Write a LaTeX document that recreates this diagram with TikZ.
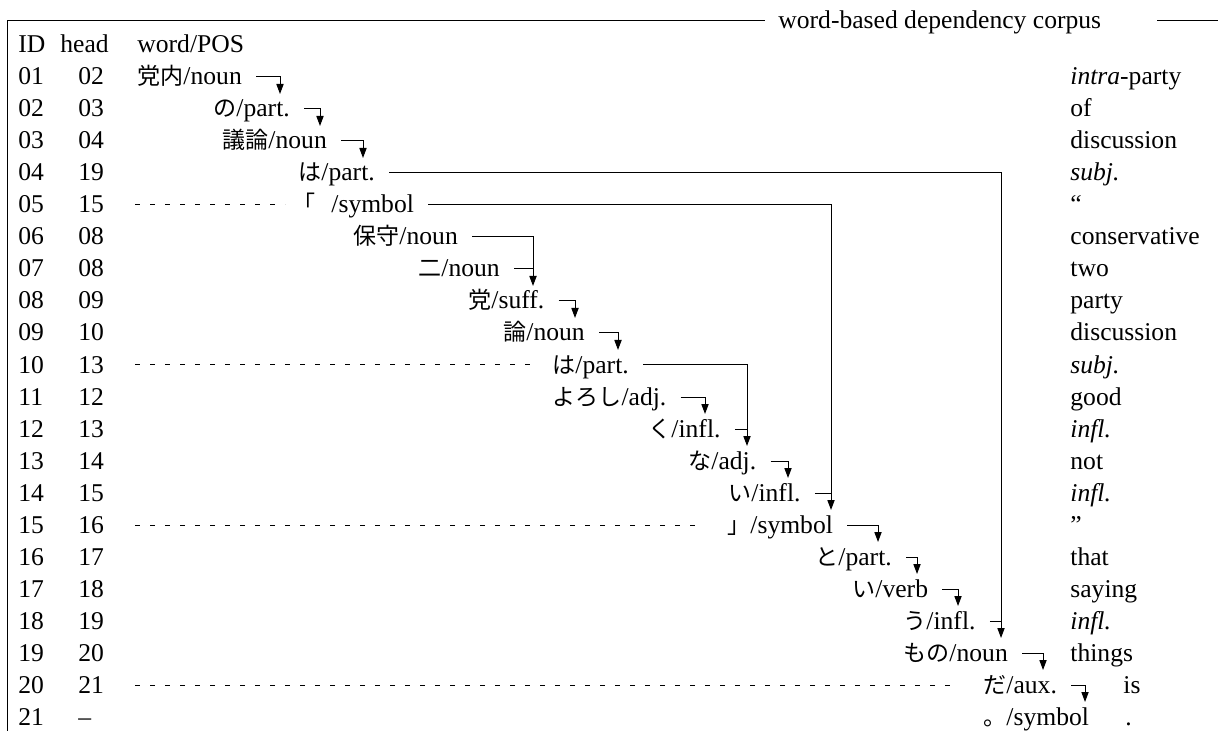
\documentclass[tikz,border=0pt]{standalone}
\usepackage{fontspec}
\setmainfont{Liberation Serif}
\newfontfamily\jp[Scale=0.9]{Noto Sans CJK JP}
\usetikzlibrary{arrows.meta}
\begin{document}
\begin{tikzpicture}[x=0.5pt,y=-0.5pt,
  font=\fontsize{12.8}{15}\selectfont,
  txt/.style={anchor=base west,inner sep=0pt},
  word/.style={anchor=base west,inner sep=0pt,text height=8pt,text depth=0pt},
  dep/.style={line width=0.5pt,-{Triangle[length=5pt,width=3.6pt]},shorten <=7pt},
  joinline/.style={line width=0.5pt,shorten <=7pt},
  lead/.style={line width=0.5pt,dash pattern=on 2.5pt off 5pt},
  frame/.style={line width=0.5pt}]
\useasboundingbox (0,0) rectangle (1218,731);

% frame and title
\node[txt] (title) at (778,29) {word-based dependency corpus};
\coordinate (fbl) at (7,760);
\coordinate (ftl) at (7,21);
\coordinate (ftm) at (765,21);
\coordinate (fr1) at (1157,21);
\coordinate (fr2) at (1240,21);
\draw[frame] (fbl) -- (ftl) -- (ftm);
\draw[frame] (fr1) -- (fr2);

% header
\node[txt] (hID) at (18,53) {ID};
\node[txt] (hhead) at (60,53) {head};
\node[txt] (hword) at (137,53) {word/POS};

% ID and head columns
\foreach \i/\h [count=\k] in {01/02,02/03,03/04,04/19,05/15,06/08,07/08,08/09,09/10,10/13,11/12,12/13,13/14,14/15,15/16,16/17,17/18,18/19,19/20,20/21,21/–}{
  \node[txt] (id\i) at (18,{53+32*\k}) {\i};
  \node[txt] (hd\i) at (78,{53+32*\k}) {\h};
}

% words
\node[word] (w01) at (137,85) {{\jp 党内}/noun};
\node[word] (w02) at (213,117) {{\jp の}/part.};
\node[word] (w03) at (222,149) {{\jp 議論}/noun};
\node[word] (w04) at (298,181) {{\jp は}/part.};
\node[word] (w05) at (292,213) {{\jp 「}\kern8pt/symbol};
\node[word] (w06) at (353,245) {{\jp 保守}/noun};
\node[word] (w07) at (418,277) {{\jp 二}/noun};
\node[word] (w08) at (468,309) {{\jp 党}/suff.};
\node[word] (w09) at (503,341) {{\jp 論}/noun};
\node[word] (w10) at (552,373) {{\jp は}/part.};
\node[word] (w11) at (552,405) {{\jp よろし}/adj.};
\node[word] (w12) at (648,437) {{\jp く}/infl.};
\node[word] (w13) at (688,469) {{\jp な}/adj.};
\node[word] (w14) at (728,501) {{\jp い}/infl.};
\node[word] (w15) at (727,533) {{\jp 」}/symbol};
\node[word] (w16) at (815,565) {{\jp と}/part.};
\node[word] (w17) at (852,597) {{\jp い}/verb};
\node[word] (w18) at (903,629) {{\jp う}/infl.};
\node[word] (w19) at (903,661) {{\jp もの}/noun};
\node[word] (w20) at (983,693) {{\jp だ}/aux.};
\node[word] (w21) at (983,725) {{\jp 。}/symbol};

% glosses
\node[txt] (g01) at (1070,85) {\textit{intra}-party};
\node[txt] (g02) at (1070,117) {of};
\node[txt] (g03) at (1070,149) {discussion};
\node[txt] (g04) at (1070,181) {\textit{subj.}};
\node[txt] (g05) at (1070,213) {“};
\node[txt] (g06) at (1070,245) {conservative};
\node[txt] (g07) at (1070,277) {two};
\node[txt] (g08) at (1070,309) {party};
\node[txt] (g09) at (1070,341) {discussion};
\node[txt] (g10) at (1070,373) {\textit{subj.}};
\node[txt] (g11) at (1070,405) {good};
\node[txt] (g12) at (1070,437) {\textit{infl.}};
\node[txt] (g13) at (1070,469) {not};
\node[txt] (g14) at (1070,501) {\textit{infl.}};
\node[txt] (g15) at (1070,533) {”};
\node[txt] (g16) at (1070,565) {that};
\node[txt] (g17) at (1070,597) {saying};
\node[txt] (g18) at (1070,629) {\textit{infl.}};
\node[txt] (g19) at (1070,661) {things};
\node[txt] (g20) at (1123,693) {is};
\node[txt] (g21) at (1125,725) {.};

% arrow landing points
\coordinate (a02) at (280,94);
\coordinate (a03) at (320,126);
\coordinate (a04) at (363,158);
\coordinate (a08) at (533,286);
\coordinate (a09) at (575,318);
\coordinate (a10) at (618,350);
\coordinate (a12) at (705,414);
\coordinate (a13) at (747,446);
\coordinate (a14) at (788,478);
\coordinate (a15) at (831,510);
\coordinate (a16) at (878,542);
\coordinate (a17) at (917,574);
\coordinate (a18) at (958,606);
\coordinate (a19) at (1001,638);
\coordinate (a20) at (1043,670);
\coordinate (a21) at (1085,702);

% dependencies
\draw[dep] (w01.east) -| (a02);
\draw[dep] (w02.east) -| (a03);
\draw[dep] (w03.east) -| (a04);
\draw[dep] (w04.east) -| (a19);
\draw[dep] (w05.east) -| (a15);
\draw[dep] (w06.east) -| (a08);
\draw[joinline] (w07.east) -- (w07.east -| a08);
\draw[dep] (w08.east) -| (a09);
\draw[dep] (w09.east) -| (a10);
\draw[dep] (w10.east) -| (a13);
\draw[dep] (w11.east) -| (a12);
\draw[joinline] (w12.east) -- (w12.east -| a13);
\draw[dep] (w13.east) -| (a14);
\draw[joinline] (w14.east) -- (w14.east -| a15);
\draw[dep] (w15.east) -| (a16);
\draw[dep] (w16.east) -| (a17);
\draw[dep] (w17.east) -| (a18);
\draw[joinline] (w18.east) -- (w18.east -| a19);
\draw[dep] (w19.east) -| (a20);
\draw[dep] (w20.east) -| (a21);

% dashed leaders
\coordinate (l05) at (135,205);
\coordinate (l10) at (135,365);
\coordinate (l15) at (135,525);
\coordinate (l20) at (135,685);
\draw[lead,shorten >=3.5pt] (l05) -- (w05.west);
\draw[lead,shorten >=11pt] (l10) -- (w10.west);
\draw[lead,shorten >=14pt] (l15) -- (w15.west);
\draw[lead,shorten >=14pt] (l20) -- (w20.west);
\end{tikzpicture}
\end{document}
